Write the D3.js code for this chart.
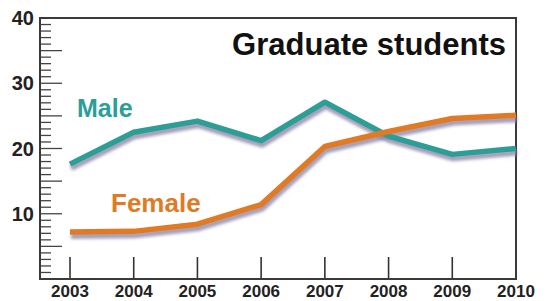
<!DOCTYPE html>
<html>
<head>
<meta charset="utf-8">
<script src="https://cdn.jsdelivr.net/npm/d3@7"></script>
<style>
  html, body { margin: 0; padding: 0; background: #fff; }
  svg { display: block; font-family: "Liberation Sans", Arial, Helvetica, sans-serif; }
</style>
</head>
<body>
<script>
// data
let years = [2003, 2004, 2005, 2006, 2007, 2008, 2009, 2010];
let male = [17.6, 22.5, 24.2, 21.2, 27.1, 21.9, 19.1, 20.0];
let female = [7.2, 7.3, 8.4, 11.4, 20.3, 22.6, 24.6, 25.1];
let yTicks = [10, 20, 30, 40];

let width = 546, height = 301;
let plotLeft = 40, plotRight = 516, plotTop = 18, plotBottom = 279;

let x = d3.scaleLinear().domain([2003, 2010]).range([70, plotRight]);
let y = d3.scaleLinear().domain([0, 40]).range([plotBottom, plotTop]);

let svg = d3.select("body").append("svg")
    .attr("width", width)
    .attr("height", height);

let defs = svg.append("defs");
defs.append("filter")
    .attr("id", "blur")
    .attr("x", "-10%").attr("y", "-20%")
    .attr("width", "120%").attr("height", "140%")
    .append("feGaussianBlur")
    .attr("stdDeviation", 1.4);

// minor / mid ticks on the left, pointing inward
let minor = d3.range(1, 40);
svg.append("g")
    .selectAll("line")
    .data(minor)
    .enter().append("line")
    .attr("x1", plotLeft)
    .attr("x2", d => plotLeft + (d % 5 === 0 ? 22 : 11))
    .attr("y1", d => y(d))
    .attr("y2", d => y(d))
    .attr("stroke", "#444")
    .attr("stroke-width", 1.3);

// year ticks pointing up from the bottom
svg.append("g")
    .selectAll("line")
    .data(years.slice(0, -1))
    .enter().append("line")
    .attr("x1", d => x(d))
    .attr("x2", d => x(d))
    .attr("y1", plotBottom)
    .attr("y2", plotBottom - 22)
    .attr("stroke", "#333")
    .attr("stroke-width", 1.6);

// frame
svg.append("rect")
    .attr("x", plotLeft)
    .attr("y", plotTop)
    .attr("width", plotRight - plotLeft)
    .attr("height", plotBottom - plotTop)
    .attr("fill", "none")
    .attr("stroke", "#3a3a3a")
    .attr("stroke-width", 2);

// y labels
svg.append("g")
    .selectAll("text")
    .data(yTicks)
    .enter().append("text")
    .attr("x", 34)
    .attr("y", d => y(d) + 7)
    .attr("text-anchor", "end")
    .attr("font-size", 20)
    .attr("font-weight", "bold")
    .attr("fill", "#222")
    .text(d => d);

// x labels
svg.append("g")
    .selectAll("text")
    .data(years)
    .enter().append("text")
    .attr("x", d => x(d))
    .attr("y", 297)
    .attr("text-anchor", "middle")
    .attr("font-size", 17)
    .attr("font-weight", "bold")
    .attr("fill", "#222")
    .text(d => d);

let line = d3.line()
    .x((d, i) => x(years[i]))
    .y(d => y(d));

let series = [
    {name: "male", values: male, color: "#2b9e96"},
    {name: "female", values: female, color: "#e07a24"}
];

// drop shadows first
series.forEach(function (s) {
    svg.append("path")
        .datum(s.values)
        .attr("d", line)
        .attr("transform", "translate(1,4)")
        .attr("fill", "none")
        .attr("stroke", "#8d86a6")
        .attr("stroke-width", 6)
        .attr("stroke-opacity", 0.8)
        .attr("stroke-linejoin", "round")
        .attr("filter", "url(#blur)");
});

series.forEach(function (s) {
    svg.append("path")
        .datum(s.values)
        .attr("d", line)
        .attr("fill", "none")
        .attr("stroke", s.color)
        .attr("stroke-width", 5.5)
        .attr("stroke-linejoin", "round");
});

// labels
svg.append("text")
    .attr("x", 506)
    .attr("y", 55)
    .attr("text-anchor", "end")
    .attr("font-size", 31)
    .attr("font-weight", "bold")
    .attr("fill", "#111")
    .text("Graduate students");

svg.append("text")
    .attr("x", 77)
    .attr("y", 117)
    .attr("font-size", 25)
    .attr("font-weight", "bold")
    .attr("fill", "#2b9e96")
    .text("Male");

svg.append("text")
    .attr("x", 111)
    .attr("y", 212)
    .attr("font-size", 26)
    .attr("font-weight", "bold")
    .attr("fill", "#e07a24")
    .text("Female");
</script>
</body>
</html>
